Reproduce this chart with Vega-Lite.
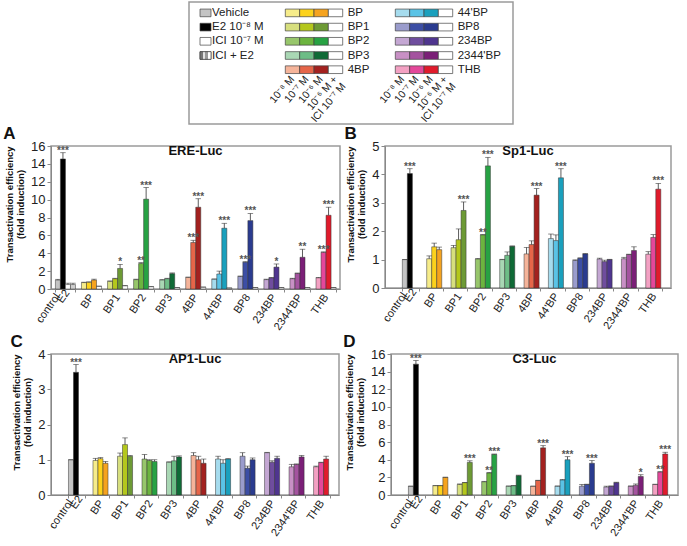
{
"$schema": "https://vega.github.io/schema/vega-lite/v6.json",
"padding": {"left": 3, "top": 1, "right": 0, "bottom": 0},
"background": "white",
"spacing": 0,
"config": {
  "font": "Liberation Sans",
  "view": {"stroke": "#9a9a9a", "strokeWidth": 1.5},
  "axis": {"domainColor": "#888", "tickColor": "#888", "labelColor": "#222", "grid": false, "tickSize": 3},
  "axisX": {"labelAngle": -55, "labelFontSize": 11, "labelAlign": "right", "labelBaseline": "middle", "tickBand": "extent", "labelPadding": 3, "labelExpr": "datum.value == 'control' ? '' : datum.label"},
  "axisY": {"labelFontSize": 13, "tickSize": 4, "titleFontSize": 9.5, "titleFontWeight": "bold", "titleColor": "#111", "titlePadding": 5, "labelPadding": 2, "titleY": 58},
  "title": {"fontWeight": "bold", "color": "#111"}
},
"vconcat": [
{
 "spacing": 0,
 "hconcat": [
 {
  "width": 136, "height": 1,
  "view": {"stroke": "transparent"},
  "data": {"values": []},
  "mark": "point",
  "encoding": {}
 },
 {
  "width": 324, "height": 122,
  "layer": [
    {
      "data": {"values": [{"item": "Vehicle", "s": "control-1"}, {"item": "E2 10⁻⁸ M", "s": "control-2"}, {"item": "ICI 10⁻⁷ M", "s": "control-3"}, {"item": "ICI + E2", "s": "control-4"}]},
      "encoding": {
        "x": {"datum": "sw", "type": "nominal", "scale": {"domain": ["sw"], "range": [11, 22], "paddingInner": 0, "paddingOuter": 0}, "axis": null},
        "y": {"field": "item", "type": "nominal", "sort": null, "scale": {"domain": ["Vehicle", "E2 10⁻⁸ M", "ICI 10⁻⁷ M", "ICI + E2"], "range": [3.8, 60.6], "paddingInner": 0.46, "paddingOuter": 0.23}, "axis": null}
      },
      "layer": [
        {"mark": {"type": "bar", "stroke": "#444", "strokeWidth": 0.7},
         "encoding": {"color": {"field": "s", "type": "nominal", "legend": null, "scale": {"domain": ["control-1","control-2","control-3","control-4","+ICI","BP-1","BP-2","BP-3","BP1-1","BP1-2","BP1-3","BP2-1","BP2-2","BP2-3","BP3-1","BP3-2","BP3-3","4BP-1","4BP-2","4BP-3","44'BP-1","44'BP-2","44'BP-3","BP8-1","BP8-2","BP8-3","234BP-1","234BP-2","234BP-3","2344'BP-1","2344'BP-2","2344'BP-3","THB-1","THB-2","THB-3"], "range": ["#c4c4c4","#000000","#ffffff","#cfcfcf","#ffffff","#f6ec8a","#fcd21c","#f5a31f","#d7df7e","#b4c71c","#6d9a35","#97c66b","#6cb43f","#27a243","#a9d7b4","#6dbd86","#0f6a36","#f5b49a","#e66549","#a3211f","#a6dcee","#5ac3e6","#1aa0bd","#9a9ccc","#3c4ea5","#2a3b8f","#c4a7d3","#6f4d9e","#4f358f","#c890c5","#a4539f","#7b1f77","#f3a1c3","#e4479a","#e01b2c"]}}}},
        {"transform": [{"filter": "datum.item == 'ICI + E2'"}],
         "mark": {"type": "bar", "stroke": "#444", "strokeWidth": 0.7, "fill": {"gradient": "linear", "x1": 0, "y1": 0, "x2": 1, "y2": 0, "stops": [{"offset": 0, "color": "#777"}, {"offset": 0.25, "color": "#777"}, {"offset": 0.25, "color": "#e2e2e2"}, {"offset": 0.5, "color": "#e2e2e2"}, {"offset": 0.5, "color": "#999"}, {"offset": 0.75, "color": "#999"}, {"offset": 0.75, "color": "#ffffff"}, {"offset": 1, "color": "#ffffff"}]}}},
        {"mark": {"type": "text", "align": "left", "baseline": "middle", "dx": 1, "fontSize": 11.5, "color": "#222"},
         "encoding": {"x": {"datum": "sw", "type": "nominal", "bandPosition": 1}, "text": {"field": "item"}}}
      ]
    },
    {
      "data": {"values": [
        {"g": "BP", "d": 1, "s": "BP-1"}, {"g": "BP", "d": 2, "s": "BP-2"}, {"g": "BP", "d": 3, "s": "BP-3"}, {"g": "BP", "d": 4, "s": "+ICI"},
        {"g": "BP1", "d": 1, "s": "BP1-1"}, {"g": "BP1", "d": 2, "s": "BP1-2"}, {"g": "BP1", "d": 3, "s": "BP1-3"}, {"g": "BP1", "d": 4, "s": "+ICI"},
        {"g": "BP2", "d": 1, "s": "BP2-1"}, {"g": "BP2", "d": 2, "s": "BP2-2"}, {"g": "BP2", "d": 3, "s": "BP2-3"}, {"g": "BP2", "d": 4, "s": "+ICI"},
        {"g": "BP3", "d": 1, "s": "BP3-1"}, {"g": "BP3", "d": 2, "s": "BP3-2"}, {"g": "BP3", "d": 3, "s": "BP3-3"}, {"g": "BP3", "d": 4, "s": "+ICI"},
        {"g": "4BP", "d": 1, "s": "4BP-1"}, {"g": "4BP", "d": 2, "s": "4BP-2"}, {"g": "4BP", "d": 3, "s": "4BP-3"}, {"g": "4BP", "d": 4, "s": "+ICI"}
      ]},
      "encoding": {
        "x": {"field": "d", "type": "ordinal", "title": null, "scale": {"domain": [1, 2, 3, 4], "range": [96.3, 153.7], "paddingInner": 0, "paddingOuter": 0},
              "axis": {"orient": "bottom", "offset": -48, "domain": false, "ticks": false, "labelAngle": -50, "labelFontSize": 10.5, "labelPadding": 1, "labelLineHeight": 11, "tickBand": "center", "labelExpr": "datum.value == 1 ? '10⁻⁸ M' : datum.value == 2 ? '10⁻⁷ M' : datum.value == 3 ? '10⁻⁶ M' : ['10⁻⁶ M +', 'ICI 10⁻⁷ M']"}},
        "y": {"field": "g", "type": "nominal", "title": null, "scale": {"domain": ["BP", "BP1", "BP2", "BP3", "4BP"], "range": [3.8, 74.8], "paddingInner": 0.46, "paddingOuter": 0.23}, "axis": null}
      },
      "layer": [
        {"mark": {"type": "bar", "stroke": "#444", "strokeWidth": 0.7},
         "encoding": {"color": {"field": "s", "type": "nominal", "legend": null}}},
        {"transform": [{"filter": "datum.d == 4"}],
         "mark": {"type": "text", "align": "left", "baseline": "middle", "dx": 5, "fontSize": 11.5, "color": "#222"},
         "encoding": {"x": {"field": "d", "type": "ordinal", "bandPosition": 1}, "text": {"field": "g"}}}
      ]
    },
    {
      "data": {"values": [
        {"g": "44'BP", "d": 1, "s": "44'BP-1"}, {"g": "44'BP", "d": 2, "s": "44'BP-2"}, {"g": "44'BP", "d": 3, "s": "44'BP-3"}, {"g": "44'BP", "d": 4, "s": "+ICI"},
        {"g": "BP8", "d": 1, "s": "BP8-1"}, {"g": "BP8", "d": 2, "s": "BP8-2"}, {"g": "BP8", "d": 3, "s": "BP8-3"}, {"g": "BP8", "d": 4, "s": "+ICI"},
        {"g": "234BP", "d": 1, "s": "234BP-1"}, {"g": "234BP", "d": 2, "s": "234BP-2"}, {"g": "234BP", "d": 3, "s": "234BP-3"}, {"g": "234BP", "d": 4, "s": "+ICI"},
        {"g": "2344'BP", "d": 1, "s": "2344'BP-1"}, {"g": "2344'BP", "d": 2, "s": "2344'BP-2"}, {"g": "2344'BP", "d": 3, "s": "2344'BP-3"}, {"g": "2344'BP", "d": 4, "s": "+ICI"},
        {"g": "THB", "d": 1, "s": "THB-1"}, {"g": "THB", "d": 2, "s": "THB-2"}, {"g": "THB", "d": 3, "s": "THB-3"}, {"g": "THB", "d": 4, "s": "+ICI"}
      ]},
      "encoding": {
        "x": {"field": "d", "type": "ordinal", "title": null, "scale": {"domain": [1, 2, 3, 4], "range": [206.3, 263.7], "paddingInner": 0, "paddingOuter": 0},
              "axis": {"orient": "bottom", "offset": -48, "domain": false, "ticks": false, "labelAngle": -50, "labelFontSize": 10.5, "labelPadding": 1, "labelLineHeight": 11, "tickBand": "center", "labelExpr": "datum.value == 1 ? '10⁻⁸ M' : datum.value == 2 ? '10⁻⁷ M' : datum.value == 3 ? '10⁻⁶ M' : ['10⁻⁶ M +', 'ICI 10⁻⁷ M']"}},
        "y": {"field": "g", "type": "nominal", "title": null, "scale": {"domain": ["44'BP", "BP8", "234BP", "2344'BP", "THB"], "range": [3.8, 74.8], "paddingInner": 0.46, "paddingOuter": 0.23}, "axis": null}
      },
      "layer": [
        {"mark": {"type": "bar", "stroke": "#444", "strokeWidth": 0.7},
         "encoding": {"color": {"field": "s", "type": "nominal", "legend": null}}},
        {"transform": [{"filter": "datum.d == 4"}],
         "mark": {"type": "text", "align": "left", "baseline": "middle", "dx": 5, "fontSize": 11.5, "color": "#222"},
         "encoding": {"x": {"field": "d", "type": "ordinal", "bandPosition": 1}, "text": {"field": "g"}}}
      ]
    }
  ],
  "resolve": {"scale": {"x": "independent", "y": "independent"}, "axis": {"x": "independent", "y": "independent"}}
 }
 ]
},
{
  "spacing": 3,
  "hconcat": [
    {
      "title": {"text": "A", "anchor": "start", "fontSize": 17, "offset": -4},
      "vconcat": [{
        "width": 289, "height": 143,
        "title": {"text": "ERE-Luc", "fontSize": 13, "offset": -24, "anchor": "middle", "baseline": "middle"},
        "data": {"values": [
          {"g": "control", "d": 1, "s": "control-1", "v": 1.0, "hi": 1.08},
          {"g": "control", "d": 2, "s": "control-2", "v": 14.55, "hi": 15.25, "sig": "***"},
          {"g": "control", "d": 3, "s": "control-3", "v": 0.5, "hi": 0.65},
          {"g": "control", "d": 4, "s": "control-4", "v": 0.5, "hi": 0.65},
          {"g": "BP", "d": 1, "s": "BP-1", "v": 0.72, "hi": 0.76},
          {"g": "BP", "d": 2, "s": "BP-2", "v": 0.75, "hi": 0.8},
          {"g": "BP", "d": 3, "s": "BP-3", "v": 1.0, "hi": 1.1},
          {"g": "BP", "d": 4, "s": "+ICI", "v": 0.3, "hi": 0.32},
          {"g": "BP1", "d": 1, "s": "BP1-1", "v": 0.86, "hi": 0.9},
          {"g": "BP1", "d": 2, "s": "BP1-2", "v": 1.15, "hi": 1.2},
          {"g": "BP1", "d": 3, "s": "BP1-3", "v": 2.3, "hi": 2.75, "sig": "*"},
          {"g": "BP1", "d": 4, "s": "+ICI", "v": 0.35, "hi": 0.4},
          {"g": "BP2", "d": 1, "s": "BP2-1", "v": 1.05, "hi": 1.1},
          {"g": "BP2", "d": 2, "s": "BP2-2", "v": 2.85, "hi": 2.95, "sig": "**"},
          {"g": "BP2", "d": 3, "s": "BP2-3", "v": 10.05, "hi": 11.35, "sig": "***"},
          {"g": "BP2", "d": 4, "s": "+ICI", "v": 0.25, "hi": 0.28},
          {"g": "BP3", "d": 1, "s": "BP3-1", "v": 1.0, "hi": 1.05},
          {"g": "BP3", "d": 2, "s": "BP3-2", "v": 1.15, "hi": 1.2},
          {"g": "BP3", "d": 3, "s": "BP3-3", "v": 1.72, "hi": 1.8},
          {"g": "BP3", "d": 4, "s": "+ICI", "v": 0.15, "hi": 0.17},
          {"g": "4BP", "d": 1, "s": "4BP-1", "v": 1.3, "hi": 1.33},
          {"g": "4BP", "d": 2, "s": "4BP-2", "v": 5.2, "hi": 5.45, "sig": "***"},
          {"g": "4BP", "d": 3, "s": "4BP-3", "v": 9.15, "hi": 10.1, "sig": "***"},
          {"g": "4BP", "d": 4, "s": "+ICI", "v": 0.2, "hi": 0.22},
          {"g": "44'BP", "d": 1, "s": "44'BP-1", "v": 1.1, "hi": 1.12},
          {"g": "44'BP", "d": 2, "s": "44'BP-2", "v": 1.68, "hi": 2.0},
          {"g": "44'BP", "d": 3, "s": "44'BP-3", "v": 6.8, "hi": 7.35, "sig": "***"},
          {"g": "44'BP", "d": 4, "s": "+ICI", "v": 0.1, "hi": 0.12},
          {"g": "BP8", "d": 1, "s": "BP8-1", "v": 1.4, "hi": 1.45},
          {"g": "BP8", "d": 2, "s": "BP8-2", "v": 3.0, "hi": 3.05, "sig": "***"},
          {"g": "BP8", "d": 3, "s": "BP8-3", "v": 7.65, "hi": 8.45, "sig": "***"},
          {"g": "BP8", "d": 4, "s": "+ICI", "v": 0.15, "hi": 0.17},
          {"g": "234BP", "d": 1, "s": "234BP-1", "v": 1.05, "hi": 1.1},
          {"g": "234BP", "d": 2, "s": "234BP-2", "v": 1.25, "hi": 1.28},
          {"g": "234BP", "d": 3, "s": "234BP-3", "v": 2.45, "hi": 2.8, "sig": "*"},
          {"g": "234BP", "d": 4, "s": "+ICI", "v": 0.15, "hi": 0.17},
          {"g": "2344'BP", "d": 1, "s": "2344'BP-1", "v": 1.15, "hi": 1.2},
          {"g": "2344'BP", "d": 2, "s": "2344'BP-2", "v": 1.75, "hi": 1.78},
          {"g": "2344'BP", "d": 3, "s": "2344'BP-3", "v": 3.55, "hi": 4.45, "sig": "**"},
          {"g": "2344'BP", "d": 4, "s": "+ICI", "v": 0.15, "hi": 0.17},
          {"g": "THB", "d": 1, "s": "THB-1", "v": 1.25, "hi": 1.3},
          {"g": "THB", "d": 2, "s": "THB-2", "v": 4.1, "hi": 4.15, "sig": "***"},
          {"g": "THB", "d": 3, "s": "THB-3", "v": 8.25, "hi": 9.15, "sig": "***"},
          {"g": "THB", "d": 4, "s": "+ICI", "v": 0.15, "hi": 0.17}
        ]},
        "encoding": {
          "x": {"field": "g", "type": "nominal", "title": null, "scale": {"domain": ["control", "BP", "BP1", "BP2", "BP3", "4BP", "44'BP", "BP8", "234BP", "2344'BP", "THB"], "paddingInner": 0.23, "paddingOuter": 0.16, "align": 0.53}},
          "xOffset": {"field": "d", "type": "nominal", "scale": {"domain": [1, 2, 3, 4], "paddingInner": 0, "paddingOuter": 0}}
        },
        "layer": [
          {"mark": {"type": "bar", "stroke": "#333", "strokeWidth": 0.5},
           "encoding": {"y": {"field": "v", "type": "quantitative", "title": ["Transactivation efficiency", "(fold induction)"], "scale": {"domain": [0, 16]}, "axis": {"values": [0, 2, 4, 6, 8, 10, 12, 14, 16]}},
                        "color": {"field": "s", "type": "nominal", "legend": null}}},
          {"mark": {"type": "rule", "color": "#333", "strokeWidth": 0.8},
           "encoding": {"y": {"field": "v", "type": "quantitative", "title": ["Transactivation efficiency", "(fold induction)"], "axis": {"values": [0, 2, 4, 6, 8, 10, 12, 14, 16]}}, "y2": {"field": "hi"}}},
          {"mark": {"type": "tick", "color": "#333", "thickness": 0.8, "size": 5.5, "orient": "horizontal"},
           "encoding": {"y": {"field": "hi", "type": "quantitative", "title": ["Transactivation efficiency", "(fold induction)"], "axis": {"values": [0, 2, 4, 6, 8, 10, 12, 14, 16]}}}},
          {"transform": [{"filter": "datum.sig"}],
           "mark": {"type": "text", "fontSize": 10, "fontWeight": "bold", "color": "#555", "baseline": "alphabetic", "dy": 1},
           "encoding": {"y": {"field": "hi", "type": "quantitative", "title": ["Transactivation efficiency", "(fold induction)"], "axis": {"values": [0, 2, 4, 6, 8, 10, 12, 14, 16]}}, "text": {"field": "sig"}}},
          {"data": {"values": [{"g": "control", "d": 1, "t": "control"}]},
           "mark": {"type": "text", "angle": -55, "align": "right", "baseline": "middle", "fontSize": 11, "color": "#222", "dx": -4.9, "dy": 3.4},
           "encoding": {"y": {"datum": 0, "type": "quantitative", "title": ["Transactivation efficiency", "(fold induction)"], "axis": {"values": [0, 2, 4, 6, 8, 10, 12, 14, 16]}}, "text": {"field": "t"}}},
          {"data": {"values": [{"g": "control", "d": 2, "t": "E2"}]},
           "mark": {"type": "text", "angle": -55, "align": "right", "baseline": "middle", "fontSize": 11, "color": "#222", "dx": 1, "dy": 5},
           "encoding": {"y": {"datum": 0, "type": "quantitative", "title": ["Transactivation efficiency", "(fold induction)"], "axis": {"values": [0, 2, 4, 6, 8, 10, 12, 14, 16]}}, "text": {"field": "t"}}}
        ]
      }]
    },
    {
      "title": {"text": "B", "anchor": "start", "fontSize": 17, "offset": -4},
      "vconcat": [{
        "width": 286, "height": 142,
        "title": {"text": "Sp1-Luc", "fontSize": 13, "offset": -24, "anchor": "middle", "baseline": "middle"},
        "data": {"values": [
          {"g": "control", "d": 1, "s": "control-1", "v": 1.0, "hi": 1.0},
          {"g": "control", "d": 2, "s": "control-2", "v": 4.03, "hi": 4.2, "sig": "***"},
          {"g": "BP", "d": 1, "s": "BP-1", "v": 1.03, "hi": 1.13},
          {"g": "BP", "d": 2, "s": "BP-2", "v": 1.45, "hi": 1.58},
          {"g": "BP", "d": 3, "s": "BP-3", "v": 1.35, "hi": 1.44},
          {"g": "BP1", "d": 1, "s": "BP1-1", "v": 1.42, "hi": 1.5},
          {"g": "BP1", "d": 2, "s": "BP1-2", "v": 1.7, "hi": 2.08},
          {"g": "BP1", "d": 3, "s": "BP1-3", "v": 2.73, "hi": 3.03, "sig": "***"},
          {"g": "BP2", "d": 1, "s": "BP2-1", "v": 1.02, "hi": 1.04},
          {"g": "BP2", "d": 2, "s": "BP2-2", "v": 1.87, "hi": 1.88, "sig": "**"},
          {"g": "BP2", "d": 3, "s": "BP2-3", "v": 4.3, "hi": 4.6, "sig": "***"},
          {"g": "BP3", "d": 1, "s": "BP3-1", "v": 1.0, "hi": 1.01},
          {"g": "BP3", "d": 2, "s": "BP3-2", "v": 1.15, "hi": 1.27},
          {"g": "BP3", "d": 3, "s": "BP3-3", "v": 1.47, "hi": 1.48},
          {"g": "4BP", "d": 1, "s": "4BP-1", "v": 1.2, "hi": 1.43},
          {"g": "4BP", "d": 2, "s": "4BP-2", "v": 1.53, "hi": 1.66},
          {"g": "4BP", "d": 3, "s": "4BP-3", "v": 3.27, "hi": 3.5, "sig": "***"},
          {"g": "44'BP", "d": 1, "s": "44'BP-1", "v": 1.74, "hi": 1.9},
          {"g": "44'BP", "d": 2, "s": "44'BP-2", "v": 1.67, "hi": 1.87},
          {"g": "44'BP", "d": 3, "s": "44'BP-3", "v": 3.88, "hi": 4.2, "sig": "***"},
          {"g": "BP8", "d": 1, "s": "BP8-1", "v": 0.97, "hi": 0.99},
          {"g": "BP8", "d": 2, "s": "BP8-2", "v": 1.05, "hi": 1.06},
          {"g": "BP8", "d": 3, "s": "BP8-3", "v": 1.2, "hi": 1.21},
          {"g": "234BP", "d": 1, "s": "234BP-1", "v": 1.02, "hi": 1.05},
          {"g": "234BP", "d": 2, "s": "234BP-2", "v": 0.93, "hi": 0.98},
          {"g": "234BP", "d": 3, "s": "234BP-3", "v": 1.0, "hi": 1.01},
          {"g": "2344'BP", "d": 1, "s": "2344'BP-1", "v": 1.03, "hi": 1.08},
          {"g": "2344'BP", "d": 2, "s": "2344'BP-2", "v": 1.18, "hi": 1.19},
          {"g": "2344'BP", "d": 3, "s": "2344'BP-3", "v": 1.32, "hi": 1.45},
          {"g": "THB", "d": 1, "s": "THB-1", "v": 1.19, "hi": 1.28},
          {"g": "THB", "d": 2, "s": "THB-2", "v": 1.78, "hi": 1.88},
          {"g": "THB", "d": 3, "s": "THB-3", "v": 3.48, "hi": 3.68, "sig": "***"}
        ]},
        "encoding": {
          "x": {"field": "g", "type": "nominal", "title": null, "scale": {"domain": ["control", "BP", "BP1", "BP2", "BP3", "4BP", "44'BP", "BP8", "234BP", "2344'BP", "THB"], "paddingInner": 0.33, "paddingOuter": 0.54, "align": 0.66}},
          "xOffset": {"field": "d", "type": "nominal", "scale": {"domain": [1, 2, 3], "paddingInner": 0, "paddingOuter": 0}}
        },
        "layer": [
          {"mark": {"type": "bar", "stroke": "#333", "strokeWidth": 0.5},
           "encoding": {"y": {"field": "v", "type": "quantitative", "title": ["Transactivation efficiency", "(fold induction)"], "scale": {"domain": [0, 5]}, "axis": {"values": [0, 1, 2, 3, 4, 5]}},
                        "color": {"field": "s", "type": "nominal", "legend": null}}},
          {"mark": {"type": "rule", "color": "#333", "strokeWidth": 0.8},
           "encoding": {"y": {"field": "v", "type": "quantitative", "title": ["Transactivation efficiency", "(fold induction)"], "axis": {"values": [0, 1, 2, 3, 4, 5]}}, "y2": {"field": "hi"}}},
          {"mark": {"type": "tick", "color": "#333", "thickness": 0.8, "size": 5.5, "orient": "horizontal"},
           "encoding": {"y": {"field": "hi", "type": "quantitative", "title": ["Transactivation efficiency", "(fold induction)"], "axis": {"values": [0, 1, 2, 3, 4, 5]}}}},
          {"transform": [{"filter": "datum.sig"}],
           "mark": {"type": "text", "fontSize": 10, "fontWeight": "bold", "color": "#555", "baseline": "alphabetic", "dy": 1},
           "encoding": {"y": {"field": "hi", "type": "quantitative", "title": ["Transactivation efficiency", "(fold induction)"], "axis": {"values": [0, 1, 2, 3, 4, 5]}}, "text": {"field": "sig"}}},
          {"data": {"values": [{"g": "control", "d": 1, "t": "control"}]},
           "mark": {"type": "text", "angle": -55, "align": "right", "baseline": "middle", "fontSize": 11, "color": "#222", "dx": -4.9, "dy": 3.4},
           "encoding": {"y": {"datum": 0, "type": "quantitative", "title": ["Transactivation efficiency", "(fold induction)"], "axis": {"values": [0, 1, 2, 3, 4, 5]}}, "text": {"field": "t"}}},
          {"data": {"values": [{"g": "control", "d": 2, "t": "E2"}]},
           "mark": {"type": "text", "angle": -55, "align": "right", "baseline": "middle", "fontSize": 11, "color": "#222", "dx": 1, "dy": 5},
           "encoding": {"y": {"datum": 0, "type": "quantitative", "title": ["Transactivation efficiency", "(fold induction)"], "axis": {"values": [0, 1, 2, 3, 4, 5]}}, "text": {"field": "t"}}}
        ]
      }]
    }
  ]
},
{
  "spacing": 3,
  "hconcat": [
    {
      "title": {"text": "C", "anchor": "start", "fontSize": 17, "offset": -4},
      "vconcat": [{
        "width": 288, "height": 141,
        "title": {"text": "AP1-Luc", "fontSize": 13, "offset": -24, "anchor": "middle", "baseline": "middle"},
        "data": {"values": [
          {"g": "control", "d": 1, "s": "control-1", "v": 1.0, "hi": 1.0},
          {"g": "control", "d": 2, "s": "control-2", "v": 3.48, "hi": 3.7, "sig": "***"},
          {"g": "BP", "d": 1, "s": "BP-1", "v": 0.98, "hi": 1.04},
          {"g": "BP", "d": 2, "s": "BP-2", "v": 1.03, "hi": 1.06},
          {"g": "BP", "d": 3, "s": "BP-3", "v": 0.9, "hi": 0.95},
          {"g": "BP1", "d": 1, "s": "BP1-1", "v": 1.1, "hi": 1.19},
          {"g": "BP1", "d": 2, "s": "BP1-2", "v": 1.43, "hi": 1.62},
          {"g": "BP1", "d": 3, "s": "BP1-3", "v": 1.1, "hi": 1.12},
          {"g": "BP2", "d": 1, "s": "BP2-1", "v": 1.02, "hi": 1.15},
          {"g": "BP2", "d": 2, "s": "BP2-2", "v": 0.98, "hi": 1.0},
          {"g": "BP2", "d": 3, "s": "BP2-3", "v": 0.95, "hi": 1.0},
          {"g": "BP3", "d": 1, "s": "BP3-1", "v": 0.93, "hi": 0.94},
          {"g": "BP3", "d": 2, "s": "BP3-2", "v": 0.97, "hi": 1.1},
          {"g": "BP3", "d": 3, "s": "BP3-3", "v": 1.08, "hi": 1.11},
          {"g": "4BP", "d": 1, "s": "4BP-1", "v": 1.12, "hi": 1.2},
          {"g": "4BP", "d": 2, "s": "4BP-2", "v": 1.0, "hi": 1.1},
          {"g": "4BP", "d": 3, "s": "4BP-3", "v": 0.9, "hi": 1.02},
          {"g": "44'BP", "d": 1, "s": "44'BP-1", "v": 1.02, "hi": 1.1},
          {"g": "44'BP", "d": 2, "s": "44'BP-2", "v": 0.9, "hi": 1.0},
          {"g": "44'BP", "d": 3, "s": "44'BP-3", "v": 1.02, "hi": 1.03},
          {"g": "BP8", "d": 1, "s": "BP8-1", "v": 1.1, "hi": 1.2},
          {"g": "BP8", "d": 2, "s": "BP8-2", "v": 0.76, "hi": 0.82},
          {"g": "BP8", "d": 3, "s": "BP8-3", "v": 1.0, "hi": 1.05},
          {"g": "234BP", "d": 1, "s": "234BP-1", "v": 1.2, "hi": 1.21},
          {"g": "234BP", "d": 2, "s": "234BP-2", "v": 0.93, "hi": 0.97},
          {"g": "234BP", "d": 3, "s": "234BP-3", "v": 1.04, "hi": 1.1},
          {"g": "2344'BP", "d": 1, "s": "2344'BP-1", "v": 0.8, "hi": 0.87},
          {"g": "2344'BP", "d": 2, "s": "2344'BP-2", "v": 0.87, "hi": 0.88},
          {"g": "2344'BP", "d": 3, "s": "2344'BP-3", "v": 1.08, "hi": 1.12},
          {"g": "THB", "d": 1, "s": "THB-1", "v": 0.8, "hi": 0.82},
          {"g": "THB", "d": 2, "s": "THB-2", "v": 0.92, "hi": 0.93},
          {"g": "THB", "d": 3, "s": "THB-3", "v": 1.02, "hi": 1.1}
        ]},
        "encoding": {
          "x": {"field": "g", "type": "nominal", "title": null, "scale": {"domain": ["control", "BP", "BP1", "BP2", "BP3", "4BP", "44'BP", "BP8", "234BP", "2344'BP", "THB"], "paddingInner": 0.33, "paddingOuter": 0.54, "align": 0.66}},
          "xOffset": {"field": "d", "type": "nominal", "scale": {"domain": [1, 2, 3], "paddingInner": 0, "paddingOuter": 0}}
        },
        "layer": [
          {"mark": {"type": "bar", "stroke": "#333", "strokeWidth": 0.5},
           "encoding": {"y": {"field": "v", "type": "quantitative", "title": ["Transactivation efficiency", "(fold induction)"], "scale": {"domain": [0, 4]}, "axis": {"values": [0, 1, 2, 3, 4]}},
                        "color": {"field": "s", "type": "nominal", "legend": null}}},
          {"mark": {"type": "rule", "color": "#333", "strokeWidth": 0.8},
           "encoding": {"y": {"field": "v", "type": "quantitative", "title": ["Transactivation efficiency", "(fold induction)"], "axis": {"values": [0, 1, 2, 3, 4]}}, "y2": {"field": "hi"}}},
          {"mark": {"type": "tick", "color": "#333", "thickness": 0.8, "size": 5.5, "orient": "horizontal"},
           "encoding": {"y": {"field": "hi", "type": "quantitative", "title": ["Transactivation efficiency", "(fold induction)"], "axis": {"values": [0, 1, 2, 3, 4]}}}},
          {"transform": [{"filter": "datum.sig"}],
           "mark": {"type": "text", "fontSize": 10, "fontWeight": "bold", "color": "#555", "baseline": "alphabetic", "dy": 1},
           "encoding": {"y": {"field": "hi", "type": "quantitative", "title": ["Transactivation efficiency", "(fold induction)"], "axis": {"values": [0, 1, 2, 3, 4]}}, "text": {"field": "sig"}}},
          {"data": {"values": [{"g": "control", "d": 1, "t": "control"}]},
           "mark": {"type": "text", "angle": -55, "align": "right", "baseline": "middle", "fontSize": 11, "color": "#222", "dx": -4.9, "dy": 3.4},
           "encoding": {"y": {"datum": 0, "type": "quantitative", "title": ["Transactivation efficiency", "(fold induction)"], "axis": {"values": [0, 1, 2, 3, 4]}}, "text": {"field": "t"}}},
          {"data": {"values": [{"g": "control", "d": 2, "t": "E2"}]},
           "mark": {"type": "text", "angle": -55, "align": "right", "baseline": "middle", "fontSize": 11, "color": "#222", "dx": 1, "dy": 5},
           "encoding": {"y": {"datum": 0, "type": "quantitative", "title": ["Transactivation efficiency", "(fold induction)"], "axis": {"values": [0, 1, 2, 3, 4]}}, "text": {"field": "t"}}}
        ]
      }]
    },
    {
      "title": {"text": "D", "anchor": "start", "fontSize": 17, "offset": -4},
      "vconcat": [{
        "width": 287, "height": 141,
        "title": {"text": "C3-Luc", "fontSize": 13, "offset": -24, "anchor": "middle", "baseline": "middle"},
        "data": {"values": [
          {"g": "control", "d": 1, "s": "control-1", "v": 1.0, "hi": 1.0},
          {"g": "control", "d": 2, "s": "control-2", "v": 14.85, "hi": 15.25, "sig": "***"},
          {"g": "BP", "d": 1, "s": "BP-1", "v": 1.05, "hi": 1.07},
          {"g": "BP", "d": 2, "s": "BP-2", "v": 1.05, "hi": 1.08},
          {"g": "BP", "d": 3, "s": "BP-3", "v": 2.0, "hi": 2.02},
          {"g": "BP1", "d": 1, "s": "BP1-1", "v": 1.2, "hi": 1.25},
          {"g": "BP1", "d": 2, "s": "BP1-2", "v": 1.4, "hi": 1.42},
          {"g": "BP1", "d": 3, "s": "BP1-3", "v": 3.7, "hi": 3.88, "sig": "***"},
          {"g": "BP2", "d": 1, "s": "BP2-1", "v": 1.5, "hi": 1.55},
          {"g": "BP2", "d": 2, "s": "BP2-2", "v": 2.5, "hi": 2.55, "sig": "**"},
          {"g": "BP2", "d": 3, "s": "BP2-3", "v": 4.6, "hi": 4.65, "sig": "***"},
          {"g": "BP3", "d": 1, "s": "BP3-1", "v": 1.0, "hi": 1.02},
          {"g": "BP3", "d": 2, "s": "BP3-2", "v": 1.05, "hi": 1.07},
          {"g": "BP3", "d": 3, "s": "BP3-3", "v": 2.2, "hi": 2.25},
          {"g": "4BP", "d": 1, "s": "4BP-1", "v": 1.0, "hi": 1.0},
          {"g": "4BP", "d": 2, "s": "4BP-2", "v": 1.65, "hi": 1.67},
          {"g": "4BP", "d": 3, "s": "4BP-3", "v": 5.35, "hi": 5.6, "sig": "***"},
          {"g": "44'BP", "d": 1, "s": "44'BP-1", "v": 1.0, "hi": 1.02},
          {"g": "44'BP", "d": 2, "s": "44'BP-2", "v": 1.7, "hi": 1.75},
          {"g": "44'BP", "d": 3, "s": "44'BP-3", "v": 4.0, "hi": 4.35, "sig": "***"},
          {"g": "BP8", "d": 1, "s": "BP8-1", "v": 1.0, "hi": 1.2},
          {"g": "BP8", "d": 2, "s": "BP8-2", "v": 1.2, "hi": 1.22},
          {"g": "BP8", "d": 3, "s": "BP8-3", "v": 3.6, "hi": 3.9, "sig": "***"},
          {"g": "234BP", "d": 1, "s": "234BP-1", "v": 0.9, "hi": 1.0},
          {"g": "234BP", "d": 2, "s": "234BP-2", "v": 1.0, "hi": 1.02},
          {"g": "234BP", "d": 3, "s": "234BP-3", "v": 1.4, "hi": 1.45},
          {"g": "2344'BP", "d": 1, "s": "2344'BP-1", "v": 1.0, "hi": 1.02},
          {"g": "2344'BP", "d": 2, "s": "2344'BP-2", "v": 1.1, "hi": 1.25},
          {"g": "2344'BP", "d": 3, "s": "2344'BP-3", "v": 2.1, "hi": 2.3, "sig": "*"},
          {"g": "THB", "d": 1, "s": "THB-1", "v": 1.2, "hi": 1.22},
          {"g": "THB", "d": 2, "s": "THB-2", "v": 2.6, "hi": 2.65, "sig": "**"},
          {"g": "THB", "d": 3, "s": "THB-3", "v": 4.65, "hi": 4.85, "sig": "***"}
        ]},
        "encoding": {
          "x": {"field": "g", "type": "nominal", "title": null, "scale": {"domain": ["control", "BP", "BP1", "BP2", "BP3", "4BP", "44'BP", "BP8", "234BP", "2344'BP", "THB"], "paddingInner": 0.33, "paddingOuter": 0.54, "align": 0.66}},
          "xOffset": {"field": "d", "type": "nominal", "scale": {"domain": [1, 2, 3], "paddingInner": 0, "paddingOuter": 0}}
        },
        "layer": [
          {"mark": {"type": "bar", "stroke": "#333", "strokeWidth": 0.5},
           "encoding": {"y": {"field": "v", "type": "quantitative", "title": ["Transactivation efficiency", "(fold induction)"], "scale": {"domain": [0, 16]}, "axis": {"values": [0, 2, 4, 6, 8, 10, 12, 14, 16]}},
                        "color": {"field": "s", "type": "nominal", "legend": null}}},
          {"mark": {"type": "rule", "color": "#333", "strokeWidth": 0.8},
           "encoding": {"y": {"field": "v", "type": "quantitative", "title": ["Transactivation efficiency", "(fold induction)"], "axis": {"values": [0, 2, 4, 6, 8, 10, 12, 14, 16]}}, "y2": {"field": "hi"}}},
          {"mark": {"type": "tick", "color": "#333", "thickness": 0.8, "size": 5.5, "orient": "horizontal"},
           "encoding": {"y": {"field": "hi", "type": "quantitative", "title": ["Transactivation efficiency", "(fold induction)"], "axis": {"values": [0, 2, 4, 6, 8, 10, 12, 14, 16]}}}},
          {"transform": [{"filter": "datum.sig"}],
           "mark": {"type": "text", "fontSize": 10, "fontWeight": "bold", "color": "#555", "baseline": "alphabetic", "dy": 1},
           "encoding": {"y": {"field": "hi", "type": "quantitative", "title": ["Transactivation efficiency", "(fold induction)"], "axis": {"values": [0, 2, 4, 6, 8, 10, 12, 14, 16]}}, "text": {"field": "sig"}}},
          {"data": {"values": [{"g": "control", "d": 1, "t": "control"}]},
           "mark": {"type": "text", "angle": -55, "align": "right", "baseline": "middle", "fontSize": 11, "color": "#222", "dx": -4.9, "dy": 3.4},
           "encoding": {"y": {"datum": 0, "type": "quantitative", "title": ["Transactivation efficiency", "(fold induction)"], "axis": {"values": [0, 2, 4, 6, 8, 10, 12, 14, 16]}}, "text": {"field": "t"}}},
          {"data": {"values": [{"g": "control", "d": 2, "t": "E2"}]},
           "mark": {"type": "text", "angle": -55, "align": "right", "baseline": "middle", "fontSize": 11, "color": "#222", "dx": 1, "dy": 5},
           "encoding": {"y": {"datum": 0, "type": "quantitative", "title": ["Transactivation efficiency", "(fold induction)"], "axis": {"values": [0, 2, 4, 6, 8, 10, 12, 14, 16]}}, "text": {"field": "t"}}}
        ]
      }]
    }
  ]
}
]
}
